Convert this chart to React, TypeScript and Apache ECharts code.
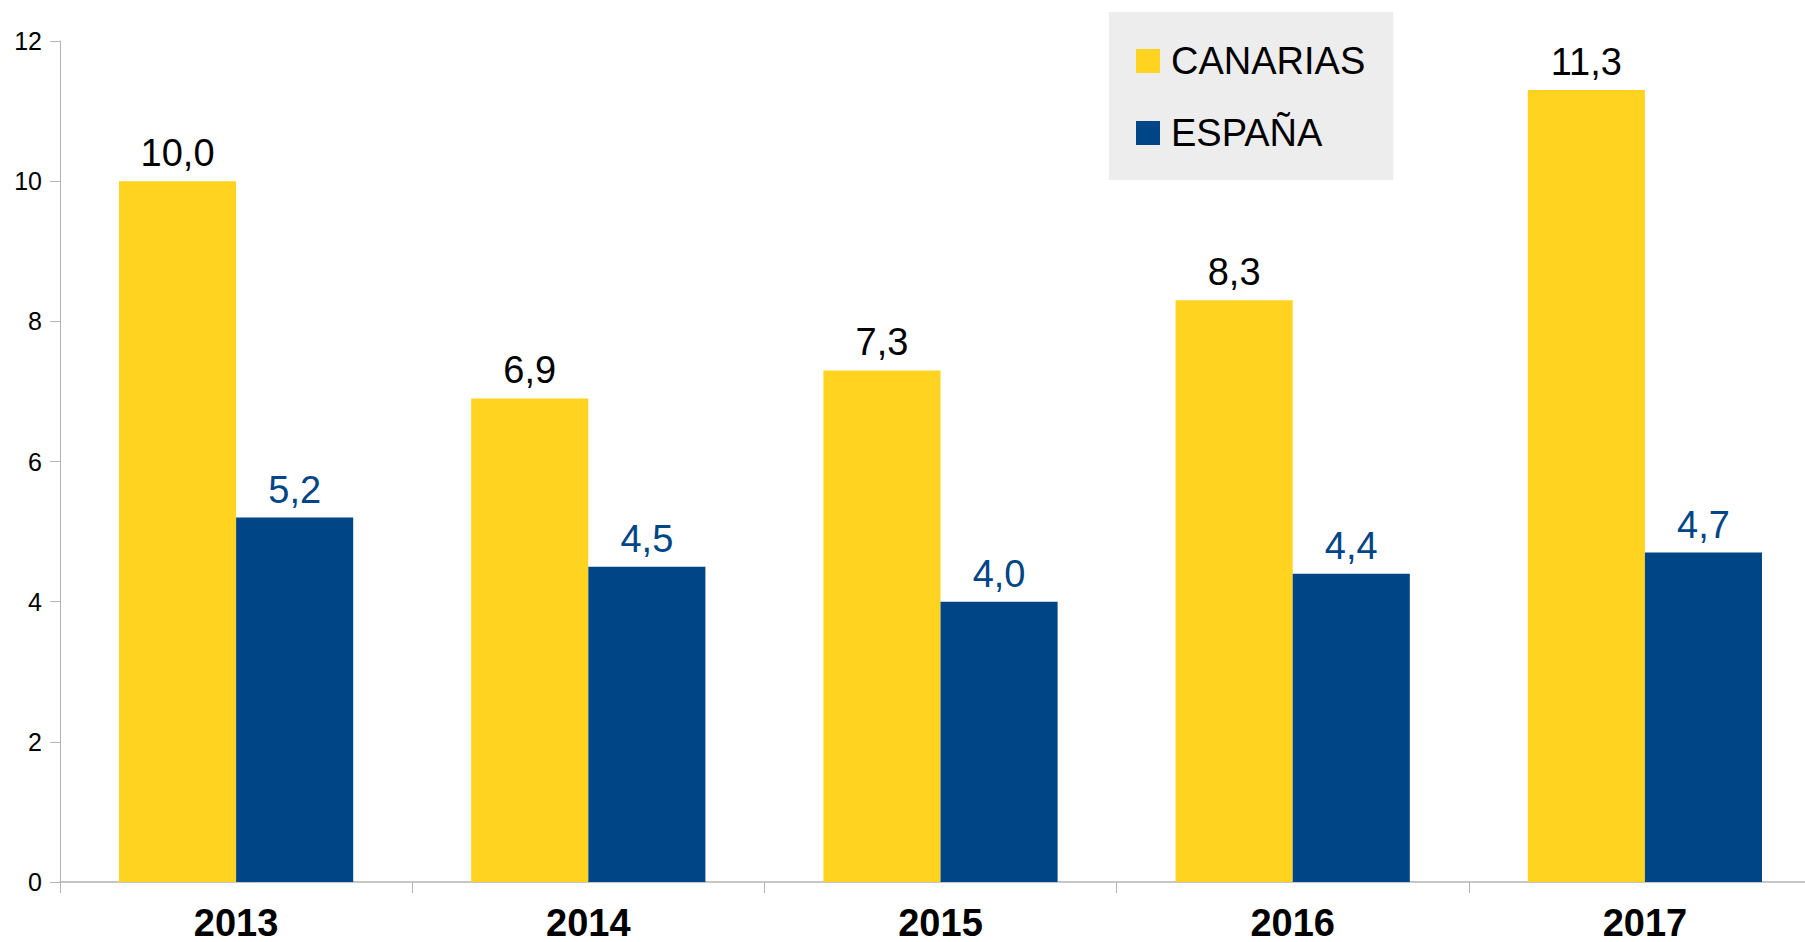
import React, { useEffect, useRef } from "react";
import * as echarts from "echarts";

const categories = ["2013", "2014", "2015", "2016", "2017"];
const canarias = [10.0, 6.9, 7.3, 8.3, 11.3];
const espana = [5.2, 4.5, 4.0, 4.4, 4.7];
const seriesNames = ["CANARIAS", "ESPAÑA"];

const FONT = "'Liberation Sans', Arial, sans-serif";
const fmt = (v: number) => v.toFixed(1).replace(".", ",");

export default function App() {
  const ref = useRef<HTMLDivElement>(null);
  useEffect(() => {
    if (!ref.current) return;
    const chart = echarts.init(ref.current, null, { renderer: "svg" });
    chart.setOption({
      animation: false,
      backgroundColor: "#ffffff",
      textStyle: { fontFamily: FONT },
      grid: { left: 60, right: 0, top: 41, bottom: 57, containLabel: false },
      legend: {
        orient: "vertical",
        left: 1109,
        top: 12,
        backgroundColor: "#EDEDED",
        padding: [29, 28, 27, 27],
        itemWidth: 24,
        itemHeight: 24,
        itemGap: 32,
        icon: "rect",
        textStyle: { fontSize: 38, color: "#000", fontFamily: FONT, lineHeight: 40, padding: [0, 0, 0, 6] },
        data: seriesNames,
      },
      xAxis: {
        type: "category",
        data: categories,
        axisLine: { lineStyle: { color: "#b3b3b3", width: 1.5 } },
        axisTick: { show: true, length: 11, lineStyle: { color: "#b3b3b3" } },
        axisLabel: { fontSize: 38, fontWeight: "bold", color: "#000", margin: 22, fontFamily: FONT },
      },
      yAxis: {
        type: "value",
        min: 0,
        max: 12,
        interval: 2,
        axisLine: { show: true, lineStyle: { color: "#b3b3b3" } },
        axisTick: { show: true, length: 10, lineStyle: { color: "#b3b3b3" } },
        axisLabel: { fontSize: 25, color: "#000", margin: 18, fontFamily: FONT },
        splitLine: { show: false },
      },
      series: [
        {
          name: seriesNames[0],
          type: "bar",
          data: canarias,
          barGap: "0%",
          barCategoryGap: "33.5%",
          itemStyle: { color: "#FFD320" },
          label: {
            show: true,
            position: "top",
            distance: 9,
            fontSize: 38,
            color: "#000",
            fontFamily: FONT,
            formatter: (p: any) => fmt(p.value),
          },
        },
        {
          name: seriesNames[1],
          type: "bar",
          data: espana,
          barGap: "0%",
          barCategoryGap: "33.5%",
          itemStyle: { color: "#004586" },
          label: {
            show: true,
            position: "top",
            distance: 9,
            fontSize: 38,
            color: "#004586",
            fontFamily: FONT,
            formatter: (p: any) => fmt(p.value),
          },
        },
      ],
    });
    return () => chart.dispose();
  }, []);
  return (
    <div style={{ position: "absolute", left: 0, top: 0, width: 1805, height: 942, overflow: "hidden" }}>
      <div ref={ref} style={{ position: "absolute", left: 0, top: 0, width: 1821, height: 942 }} />
    </div>
  );
}
